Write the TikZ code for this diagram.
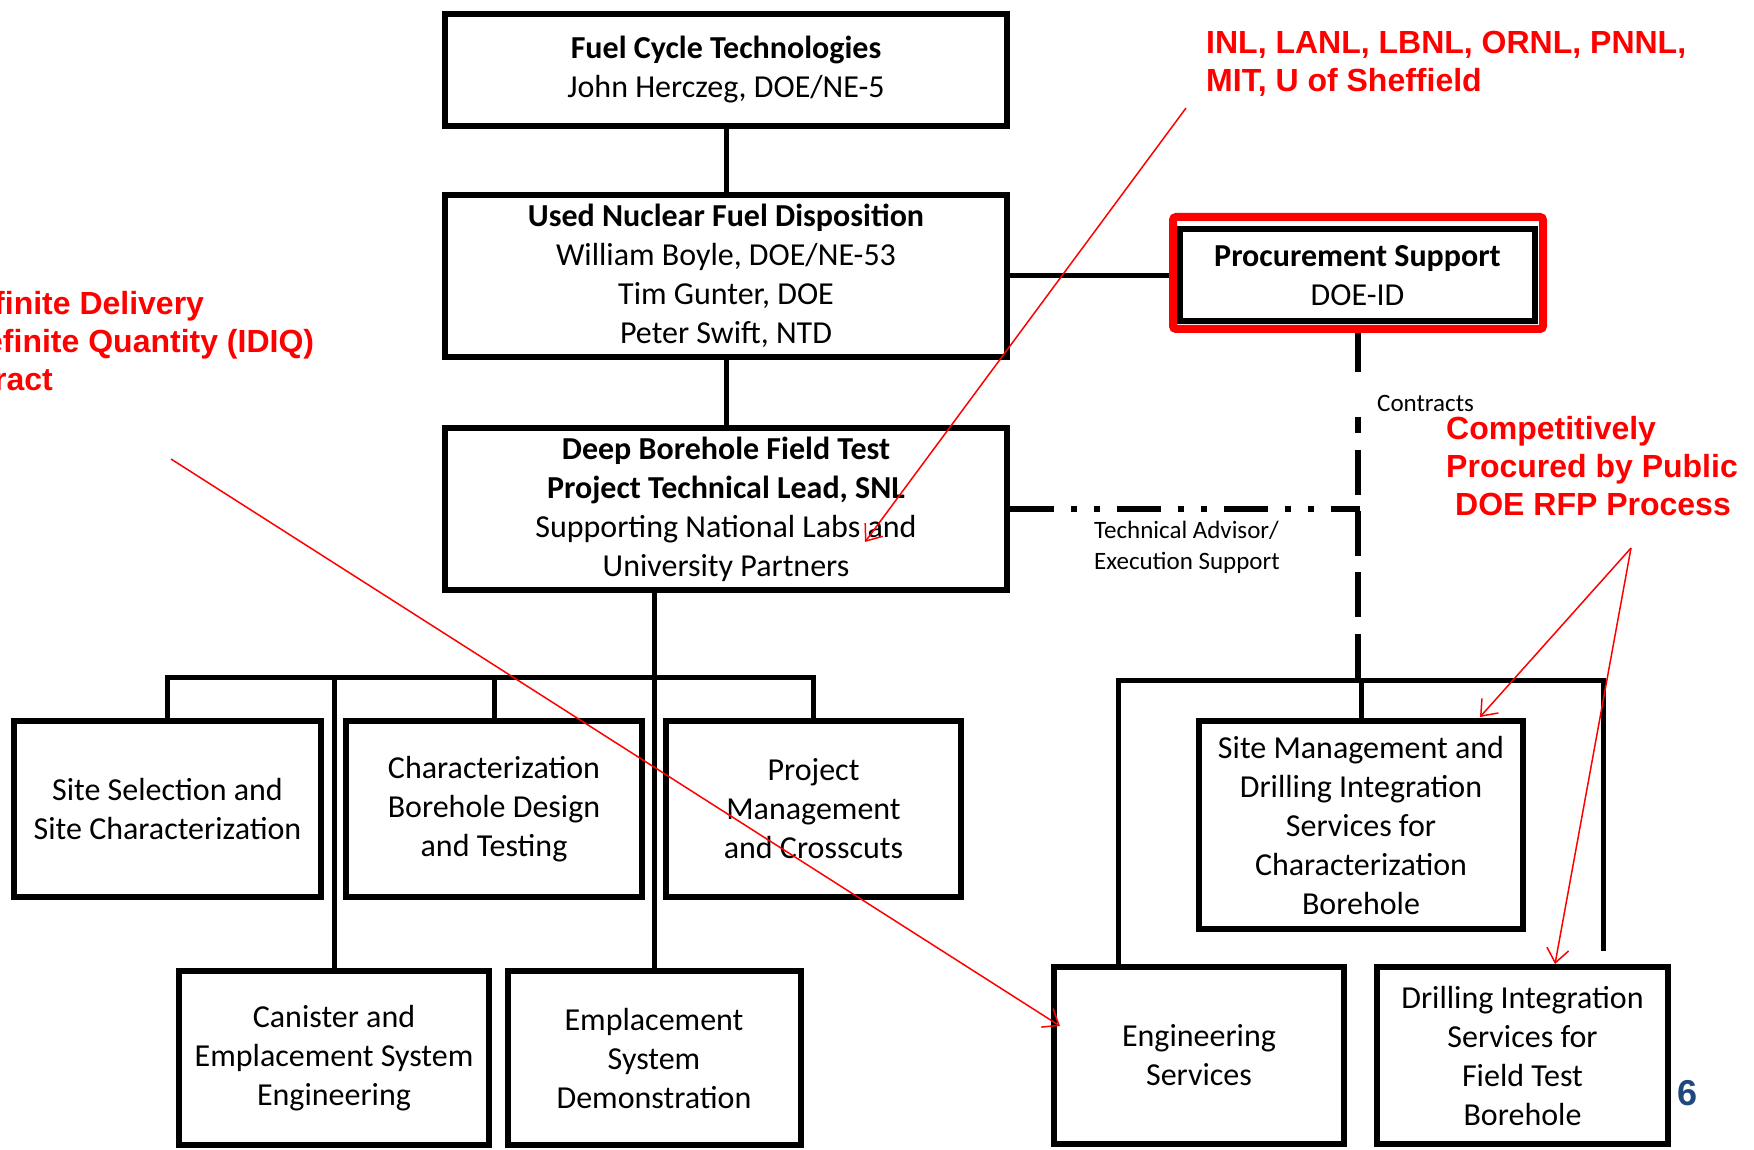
\documentclass[tikz,border=0pt]{standalone}
\usepackage{fontspec}
\setmainfont{Carlito}
\newfontfamily\redfont{Liberation Sans}
\usetikzlibrary{arrows.meta}
\definecolor{pagenum}{RGB}{31,73,125}

\begin{document}
\begin{tikzpicture}[x=1pt,y=-1pt,
  box/.style={draw,line width=6pt,inner sep=0pt,align=center,font=\fontsize{32}{39}\selectfont},
  conn/.style={line width=5pt},
  call/.style={red,line width=1.5pt,-{Straight Barb[length=14pt,width=22pt]}},
  note/.style={inner sep=0pt,align=left,text=red,font=\redfont\bfseries\fontsize{32}{38}\selectfont},
  small/.style={inner sep=0pt,align=left,font=\fontsize{25}{31}\selectfont}]
\useasboundingbox (0,0) rectangle (1754,1150);
\clip (0,0) rectangle (1754,1150);
\node[box,minimum width=562pt,minimum height=112pt] (fct) at (726,70) {\textbf{Fuel Cycle Technologies}\\John Herczeg, DOE/NE-5};
\node[box,minimum width=562pt,minimum height=162pt] (unfd) at (726,276) {\textbf{Used Nuclear Fuel Disposition}\\William Boyle, DOE/NE-53\\Tim Gunter, DOE\\Peter Swift, NTD};
\node[box,minimum width=562pt,minimum height=162pt] (dbft) at (726,509) {\textbf{Deep Borehole Field Test}\\\textbf{Project Technical Lead, SNL}\\Supporting National Labs and\\University Partners};
\node[draw=red,line width=8pt,rounded corners=3pt,inner sep=0pt,minimum width=370pt,minimum height=112pt] (procfr) at (1358,273) {};
\node[box,minimum width=355pt,minimum height=92pt] (proc) at (1357.5,275.5) {\textbf{Procurement Support}\\DOE-ID};
\node[box,minimum width=307pt,minimum height=176pt] (ss) at (167.5,809) {Site Selection and\\Site Characterization};
\node[box,minimum width=296pt,minimum height=176pt] (cbd) at (494,809) {Characterization\\Borehole Design\\and Testing};
\node[box,minimum width=295pt,minimum height=176pt] (pm) at (813.5,809) {Project\\Management\\and Crosscuts};
\node[box,minimum width=310pt,minimum height=174pt] (can) at (334,1058) {Canister and\\Emplacement System\\Engineering};
\node[box,minimum width=293pt,minimum height=174pt] (emp) at (654,1058) {Emplacement\\System\\Demonstration};
\node[box,minimum width=324pt,minimum height=208pt] (sm) at (1361,825) {Site Management and\\Drilling Integration\\Services for\\Characterization\\Borehole};
\node[box,minimum width=290pt,minimum height=177pt] (eng) at (1199,1055.5) {Engineering\\Services};
\node[box,minimum width=291pt,minimum height=177pt] (dit) at (1522.5,1055.5) {Drilling Integration\\Services for\\Field Test\\Borehole};
\coordinate (lbus) at (0,677);
\coordinate (rbl) at (1118,680);
\coordinate (rbr) at (1603,680);
\coordinate (rbe) at (1603,951);
\coordinate (tj) at (1360,509);
\path[conn] (fct) edge (unfd) (unfd) edge (dbft);
\draw[conn] (unfd.east) -- (procfr.west |- unfd.east);
\draw[conn] (emp.north) -- (emp.north |- dbft.south);
\draw[conn] (ss.north) |- (pm.north |- lbus) -- (pm.north);
\draw[conn] (cbd.north) -- (cbd.north |- lbus);
\draw[conn] (can.north) -- (can.north |- lbus);
\draw[conn] (rbl |- eng.north) -- (rbl) -- (rbr) -- (rbe);
\draw[conn] (sm.north) -- (sm.north |- rbl);
\draw[line width=6pt,dash pattern=on 44pt off 17pt on 6pt off 17pt on 6pt off 17pt] (dbft.east) -- (tj);
\draw[line width=6pt,dash pattern=on 39pt off 45pt on 16pt off 17pt on 45pt off 16pt on 45pt off 16pt on 45pt off 17pt on 60pt] (procfr.south) -- (procfr.south |- rbl);
\node[small,anchor=west] (contr) at (1377,403) {Contracts};
\node[small,anchor=west] (tadv) at (1094,547) {Technical Advisor/\\Execution Support};
\node[note,anchor=west] (labs) at (1206,64) {INL, LANL, LBNL, ORNL, PNNL,\\MIT, U of Sheffield};
\node[note,anchor=west] (idiq) at (-6,341) {finite Delivery\\\hspace*{-9pt}efinite Quantity (IDIQ)\\ract};
\node[note,anchor=west] (rfp) at (1446,466) {Competitively\\Procured by Public\\\hspace*{9pt}DOE RFP Process};
\node[inner sep=0pt,text=pagenum,font=\redfont\bfseries\fontsize{36}{40}\selectfont] (pg) at (1687,1093) {6};
\coordinate (c1s) at (1186,108);
\coordinate (c1e) at (865,542);
\coordinate (c2s) at (171,459);
\coordinate (c2e) at (1060,1026);
\coordinate (c3s) at (1631,548);
\coordinate (c3e) at (1480,717);
\coordinate (c4e) at (1555,964);
\draw[call] (c1s) -- (c1e);
\draw[call] (c2s) -- (c2e);
\draw[call] (c3s) -- (c3e);
\draw[call] (c3s) -- (c4e);
\end{tikzpicture}
\end{document}
